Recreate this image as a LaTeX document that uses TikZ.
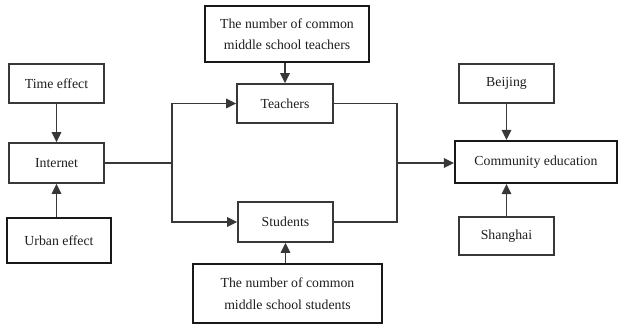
\documentclass[tikz,border=0pt]{standalone}
\usepackage{fontspec}
\setmainfont{Liberation Serif}
\usetikzlibrary{arrows.meta}
\definecolor{ln}{HTML}{383838}
\definecolor{tx}{HTML}{1E1E1E}
\tikzset{
  box/.style={draw=ln, line width=1.6pt, rectangle, inner sep=0pt, align=center,
    font=\fontsize{13.8}{21.5}\selectfont, text=tx},
  bbox/.style={box, draw=black!90, line width=2.2pt},
  conn/.style={draw=ln, line width=1.6pt},
  arr/.style={conn, -{Triangle[length=10pt,width=9.5pt]}}
}
\begin{document}
\begin{tikzpicture}[x=1pt,y=-1pt]
\useasboundingbox (0,0) rectangle (619,325);
\node[box, minimum width=95pt, minimum height=39pt] (time) at (56.5,83.5) {Time effect};
\node[box, minimum width=95pt, minimum height=40pt] (internet) at (56.5,163) {Internet};
\node[bbox, minimum width=104pt, minimum height=45pt] (urban) at (59,240.5) {Urban effect};
\node[bbox, minimum width=164pt, minimum height=56pt] (tnum) at (287,34) {The number of common\\middle school teachers};
\node[box, minimum width=96pt, minimum height=39pt] (teachers) at (285,103.5) {Teachers};
\node[box, minimum width=95pt, minimum height=40pt] (students) at (285.5,222) {Students};
\node[bbox, minimum width=189pt, minimum height=59pt] (snum) at (287.5,293.5) {The number of common\\middle school students};
\node[box, minimum width=95pt, minimum height=39pt] (beijing) at (506.5,83.5) {Beijing};
\node[bbox, minimum width=162pt, minimum height=42pt] (community) at (536,162) {Community education};
\node[box, minimum width=95pt, minimum height=38pt] (shanghai) at (506.5,236) {Shanghai};
\coordinate (jl) at (172,163);
\coordinate (jr) at (397,163);
% left side
\draw[arr] (time) -- (internet);
\draw[arr] (internet.south |- urban.north) -- (internet.south);
\draw[conn] (internet.east) -- (jl);
\draw[arr] (jl) |- (teachers.west);
\draw[arr] (jl) |- (students.west);
% middle
\draw[arr] (teachers.north |- tnum.south) -- (teachers.north);
\draw[arr] (students.south |- snum.north) -- (students.south);
% right side
\draw[conn] (teachers.east) -| (jr);
\draw[conn] (students.east) -| (jr);
\draw[arr] (jr) -- (community.west |- jr);
\draw[arr] (beijing.south) -- (beijing.south |- community.north);
\draw[arr] (shanghai.north) -- (shanghai.north |- community.south);
\end{tikzpicture}
\end{document}
